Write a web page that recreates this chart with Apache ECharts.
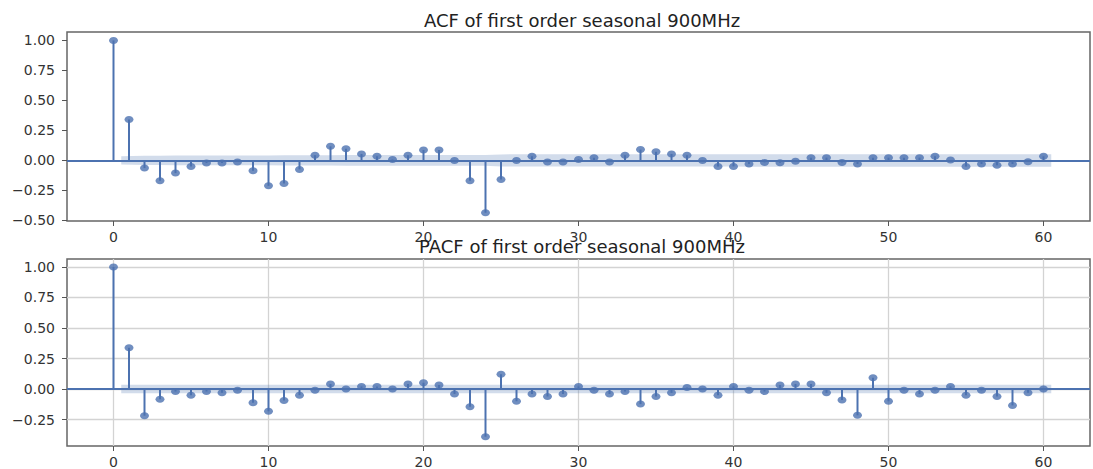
<!DOCTYPE html>
<html>
<head>
<meta charset="utf-8">
<title>ACF / PACF of first order seasonal 900MHz</title>
<script src="https://cdn.jsdelivr.net/npm/echarts@6/dist/echarts.min.js"></script>
<style>
  html, body { margin: 0; padding: 0; background: #fff; }
  #chart { width: 1093px; height: 469px; }
</style>
</head>
<body>
<div id="chart"></div>
<script>
// lags 0..60
const lags = [
  0, 1, 2, 3, 4, 5, 6, 7, 8, 9,
  10, 11, 12, 13, 14, 15, 16, 17, 18, 19,
  20, 21, 22, 23, 24, 25, 26, 27, 28, 29,
  30, 31, 32, 33, 34, 35, 36, 37, 38, 39,
  40, 41, 42, 43, 44, 45, 46, 47, 48, 49,
  50, 51, 52, 53, 54, 55, 56, 57, 58, 59,
  60
]

const acfValues = [
  1.00, 0.34, -0.064, -0.17, -0.106, -0.05, -0.022, -0.022, -0.013, -0.086,
  -0.212, -0.193, -0.075, 0.042, 0.117, 0.098, 0.054, 0.034, 0.008, 0.042,
  0.087, 0.087, 0.0, -0.17, -0.436, -0.159, 0.0, 0.034, -0.014, -0.014,
  0.008, 0.023, -0.014, 0.042, 0.09, 0.073, 0.054, 0.042, 0.0, -0.05,
  -0.05, -0.03, -0.017, -0.02, -0.008, 0.023, 0.023, -0.017, -0.03, 0.023,
  0.023, 0.023, 0.023, 0.034, 0.003, -0.05, -0.03, -0.04, -0.03, -0.011,
  0.034
]

const pacfValues = [
  1.00, 0.338, -0.218, -0.083, -0.02, -0.05, -0.02, -0.031, -0.01, -0.112,
  -0.182, -0.093, -0.05, -0.01, 0.042, 0.0, 0.022, 0.022, 0.0, 0.042,
  0.052, 0.033, -0.04, -0.145, -0.39, 0.122, -0.1, -0.04, -0.061, -0.04,
  0.022, -0.01, -0.04, -0.02, -0.123, -0.061, -0.031, 0.012, 0.0, -0.05,
  0.022, -0.01, -0.02, 0.033, 0.042, 0.042, -0.031, -0.09, -0.215, 0.093,
  -0.1, -0.01, -0.04, -0.01, 0.022, -0.05, -0.01, -0.061, -0.134, -0.031,
  0.0
]

// confidence band half widths for lags 1..60
const acfBand = [
  0.035, 0.039, 0.039, 0.040, 0.040, 0.040, 0.040, 0.040, 0.040, 0.041,
  0.042, 0.043, 0.043, 0.043, 0.044, 0.044, 0.044, 0.044, 0.044, 0.044,
  0.044, 0.044, 0.044, 0.045, 0.050, 0.051, 0.051, 0.051, 0.051, 0.051,
  0.051, 0.051, 0.051, 0.051, 0.051, 0.051, 0.051, 0.051, 0.051, 0.051,
  0.052, 0.052, 0.052, 0.052, 0.052, 0.052, 0.052, 0.052, 0.052, 0.052,
  0.052, 0.052, 0.052, 0.052, 0.052, 0.052, 0.052, 0.052, 0.052, 0.052
]
const pacfBand = [
  0.035, 0.035, 0.035, 0.035, 0.035, 0.035, 0.035, 0.035, 0.035, 0.035,
  0.035, 0.035, 0.035, 0.035, 0.035, 0.035, 0.035, 0.035, 0.035, 0.035,
  0.035, 0.035, 0.035, 0.035, 0.035, 0.035, 0.035, 0.035, 0.035, 0.035,
  0.035, 0.035, 0.035, 0.035, 0.035, 0.035, 0.035, 0.035, 0.035, 0.035,
  0.035, 0.035, 0.035, 0.035, 0.035, 0.035, 0.035, 0.035, 0.035, 0.035,
  0.035, 0.035, 0.035, 0.035, 0.035, 0.035, 0.035, 0.035, 0.035, 0.035
]

const xTicks = [0, 10, 20, 30, 40, 50, 60]
const acfYTicks = [-0.5, -0.25, 0, 0.25, 0.5, 0.75, 1.0]
const pacfYTicks = [-0.25, 0, 0.25, 0.5, 0.75, 1.0]

const BLUE = '#4c72b0'
const FONT = 'DejaVu Sans'

// band runs from lag 0.5 to 60.5, like statsmodels
function bandPoints(band) {
  const xs = lags.slice(1)
  return xs.map((x, i) => {
    let px = x
    if (i === 0) px = x - 0.5
    if (i === xs.length - 1) px = x + 0.5
    return [px, band[i]]
  })
}

function fmtY(v) {
  const s = Math.abs(v).toFixed(2)
  return v < 0 ? '\u2212' + s : s
}

function makeAxes(i, yMin, yMax, yTicks) {
  const x = {
    type: 'value',
    gridIndex: i,
    min: -3,
    max: 63,
    axisLine: { show: false, onZero: false },
    axisTick: { customValues: xTicks, length: 5, lineStyle: { color: '#555', width: 1 } },
    axisLabel: { customValues: xTicks, fontSize: 14, color: '#333', margin: 9, fontFamily: FONT },
    splitLine: { show: false }
  }
  const y = {
    type: 'value',
    gridIndex: i,
    min: yMin,
    max: yMax,
    axisLine: { show: false, onZero: false },
    axisTick: { customValues: yTicks, length: 5, lineStyle: { color: '#555', width: 1 } },
    axisLabel: { customValues: yTicks, fontSize: 14, color: '#333', margin: 12, fontFamily: FONT, formatter: fmtY },
    splitLine: { show: false }
  }
  return [x, y]
}

function makeSeries(i, values, band, withGrid, yTicks) {
  const pts = bandPoints(band)
  const gridLines = withGrid
    ? xTicks.map(v => ({ xAxis: v })).concat(yTicks.map(v => ({ yAxis: v })))
    : []
  return [
    {
      type: 'custom',
      xAxisIndex: i,
      yAxisIndex: i,
      z: 1,
      silent: true,
      data: pts,
      renderItem(params, api) {
        if (params.dataIndex !== 0) return null
        const upper = pts.map(p => api.coord([p[0], p[1]]))
        const lower = pts.slice().reverse().map(p => api.coord([p[0], -p[1]]))
        return {
          type: 'polygon',
          shape: { points: upper.concat(lower) },
          style: { fill: 'rgba(76,114,176,0.25)' }
        }
      },
      markLine: {
        silent: true,
        z: 0,
        symbol: 'none',
        label: { show: false },
        lineStyle: { color: '#d3d3d3', width: 1.3, type: 'solid' },
        data: gridLines
      }
    },
    {
      type: 'custom',
      xAxisIndex: i,
      yAxisIndex: i,
      z: 2,
      silent: true,
      data: lags.map((l, k) => [l, values[k]]),
      renderItem(params, api) {
        const p0 = api.coord([api.value(0), 0])
        const p1 = api.coord([api.value(0), api.value(1)])
        return {
          type: 'line',
          shape: { x1: p0[0], y1: p0[1], x2: p1[0], y2: p1[1] },
          style: { stroke: BLUE, lineWidth: 2 }
        }
      }
    },
    {
      type: 'scatter',
      xAxisIndex: i,
      yAxisIndex: i,
      z: 3,
      silent: true,
      symbol: 'path://M0,-1C0.5523,-1 1,-0.5523 1,0C1,0.5523 0.5523,1 0,1C-0.5523,1 -1,0.5523 -1,0C-1,-0.5523 -0.5523,-1 0,-1Z',
      symbolSize: [9, 7],
      itemStyle: { color: BLUE },
      data: lags.map((l, k) => [l, values[k]]),
      markLine: {
        silent: true,
        z: 2,
        symbol: 'none',
        label: { show: false },
        lineStyle: { color: BLUE, width: 1.8, type: 'solid' },
        data: [{ yAxis: 0 }]
      }
    }
  ]
}

const chart = echarts.init(document.getElementById('chart'), null, { renderer: 'svg' })

const ax0 = makeAxes(0, -0.505, 1.07, acfYTicks)
const ax1 = makeAxes(1, -0.466, 1.065, pacfYTicks)

chart.setOption({
  animation: false,
  backgroundColor: '#fff',
  graphic: [
    {
      type: 'text', x: 582, y: 20, z: 10,
      style: { text: 'ACF of first order seasonal 900MHz', font: '18px "DejaVu Sans"', fill: '#222', textAlign: 'center', textVerticalAlign: 'middle' }
    },
    {
      type: 'text', x: 582, y: 246, z: 10,
      style: { text: 'PACF of first order seasonal 900MHz', font: '18px "DejaVu Sans"', fill: '#222', textAlign: 'center', textVerticalAlign: 'middle' }
    }
  ],
  grid: [
    { left: 67, top: 32, width: 1023, height: 189, show: true, borderColor: '#666', borderWidth: 1.5, backgroundColor: 'transparent' },
    { left: 67, top: 259, width: 1023, height: 189, show: true, borderColor: '#666', borderWidth: 1.5, backgroundColor: 'transparent' }
  ],
  xAxis: [ax0[0], ax1[0]],
  yAxis: [ax0[1], ax1[1]],
  series: makeSeries(0, acfValues, acfBand, false, acfYTicks)
    .concat(makeSeries(1, pacfValues, pacfBand, true, pacfYTicks))
})
</script>
</body>
</html>
